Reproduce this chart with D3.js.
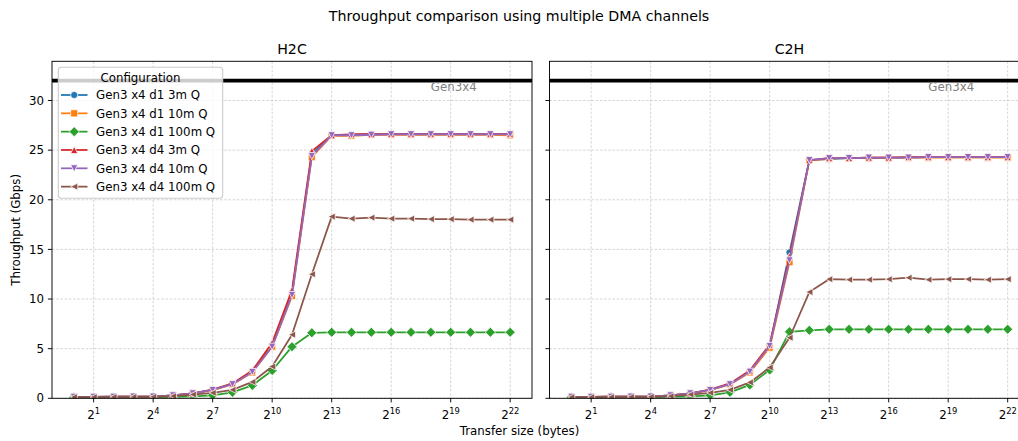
<!DOCTYPE html>
<html>
<head>
<meta charset="utf-8">
<script src="https://cdn.jsdelivr.net/npm/d3@7"></script>
<style>
  body { margin: 0; background: #fff; }
  text { font-family: "DejaVu Sans", sans-serif; fill: #000; }
</style>
</head>
<body>
<div id="chart"></div>
<script>
// transfer sizes in bytes (2^0 .. 2^22)
var sizes = [1, 2, 4, 8, 16, 32, 64, 128, 256, 512, 1024, 2048, 4096, 8192, 16384,
             32768, 65536, 131072, 262144, 524288, 1048576, 2097152, 4194304];

var seriesNames = ["Gen3 x4 d1 3m Q", "Gen3 x4 d1 10m Q", "Gen3 x4 d1 100m Q",
                   "Gen3 x4 d4 3m Q", "Gen3 x4 d4 10m Q", "Gen3 x4 d4 100m Q"];
var seriesColors = ["#1f77b4", "#ff7f0e", "#2ca02c", "#d62728", "#9467bd", "#8c564b"];
var seriesMarkers = ["o", "s", "D", "^", "v", "<"];

// H2C throughput (Gbps)
var h2c_d1_3m   = [0.15, 0.15, 0.16, 0.17, 0.18, 0.30, 0.50, 0.85, 1.45, 2.70, 5.40, 10.6, 24.6, 26.5, 26.55, 26.6, 26.6, 26.6, 26.6, 26.6, 26.6, 26.6, 26.6];
var h2c_d1_10m  = [0.15, 0.15, 0.16, 0.17, 0.18, 0.30, 0.50, 0.82, 1.40, 2.60, 5.20, 10.3, 24.3, 26.45, 26.45, 26.55, 26.55, 26.55, 26.55, 26.55, 26.55, 26.55, 26.5];
var h2c_d1_100m = [0.10, 0.10, 0.10, 0.11, 0.12, 0.15, 0.20, 0.30, 0.60, 1.30, 2.80, 5.20, 6.60, 6.65, 6.65, 6.65, 6.65, 6.65, 6.65, 6.65, 6.65, 6.65, 6.65];
var h2c_d4_3m   = [0.15, 0.15, 0.16, 0.17, 0.18, 0.30, 0.50, 0.87, 1.50, 2.80, 5.60, 10.9, 24.9, 26.5, 26.6, 26.6, 26.65, 26.65, 26.65, 26.65, 26.65, 26.65, 26.65];
var h2c_d4_10m  = [0.15, 0.15, 0.16, 0.17, 0.18, 0.30, 0.50, 0.84, 1.42, 2.65, 5.20, 10.4, 24.4, 26.5, 26.5, 26.55, 26.6, 26.6, 26.6, 26.6, 26.6, 26.6, 26.6];
var h2c_d4_100m = [0.12, 0.12, 0.13, 0.14, 0.15, 0.22, 0.38, 0.55, 0.85, 1.65, 3.20, 6.40, 12.5, 18.3, 18.1, 18.2, 18.1, 18.1, 18.05, 18.05, 18.0, 18.0, 18.0];

// C2H throughput (Gbps)
var c2h_d1_3m   = [0.15, 0.15, 0.16, 0.17, 0.18, 0.30, 0.50, 0.85, 1.45, 2.70, 5.30, 14.7, 24.0, 24.1, 24.2, 24.2, 24.25, 24.25, 24.3, 24.3, 24.3, 24.3, 24.3];
var c2h_d1_10m  = [0.15, 0.15, 0.16, 0.17, 0.18, 0.30, 0.50, 0.82, 1.40, 2.60, 5.10, 13.7, 23.95, 24.15, 24.2, 24.25, 24.25, 24.25, 24.25, 24.25, 24.25, 24.25, 24.25];
var c2h_d1_100m = [0.10, 0.10, 0.10, 0.11, 0.12, 0.15, 0.20, 0.30, 0.60, 1.35, 2.85, 6.70, 6.85, 6.95, 6.95, 6.95, 6.95, 6.95, 6.95, 6.95, 6.95, 6.95, 6.95];
var c2h_d4_3m   = [0.15, 0.15, 0.16, 0.17, 0.18, 0.30, 0.50, 0.87, 1.50, 2.80, 5.40, 14.3, 24.0, 24.2, 24.2, 24.25, 24.25, 24.3, 24.3, 24.3, 24.3, 24.3, 24.3];
var c2h_d4_10m  = [0.15, 0.15, 0.16, 0.17, 0.18, 0.30, 0.50, 0.84, 1.42, 2.68, 5.27, 13.9, 24.0, 24.2, 24.2, 24.25, 24.25, 24.25, 24.3, 24.3, 24.3, 24.3, 24.3];
var c2h_d4_100m = [0.12, 0.12, 0.13, 0.14, 0.15, 0.22, 0.38, 0.55, 0.85, 1.60, 3.10, 6.10, 10.7, 12.0, 11.95, 11.95, 12.0, 12.15, 11.95, 12.0, 12.0, 11.95, 12.0];

var h2cSeries = [h2c_d1_3m, h2c_d1_10m, h2c_d1_100m, h2c_d4_3m, h2c_d4_10m, h2c_d4_100m];
var c2hSeries = [c2h_d1_3m, c2h_d1_10m, c2h_d1_100m, c2h_d4_3m, c2h_d4_10m, c2h_d4_100m];

var xTickExps = [1, 4, 7, 10, 13, 16, 19, 22];
var yTicks = [0, 5, 10, 15, 20, 25, 30];
var genLimit = 32;

var width = 1018;
var height = 441;
var plotTop = 61.3, plotBottom = 398.3;
var panels = [
    { name: "H2C", left: 52, right: 532, data: h2cSeries, id: "h2c", yLabels: true, legend: true },
    { name: "C2H", left: 549.5, right: 1029.5, data: c2hSeries, id: "c2h", yLabels: false, legend: false }
];

var svg = d3.select("#chart")
    .append("svg")
    .attr("width", width)
    .attr("height", height);

svg.append("rect").attr("width", width).attr("height", height).attr("fill", "#fff");

var y = d3.scaleLinear().domain([0, 33.95]).range([plotBottom, plotTop]);

// matplotlib-like marker shapes, s = marker size in px
function markerPath(type, s) {
    var h = s / 2;
    if (type === "o") return d3.symbol().type(d3.symbolCircle).size(Math.PI * h * h)();
    if (type === "s") return "M" + -h + "," + -h + "H" + h + "V" + h + "H" + -h + "Z";
    if (type === "D") { var d = h * Math.SQRT2; return "M0," + -d + "L" + d + ",0L0," + d + "L" + -d + ",0Z"; }
    if (type === "^") return "M0," + -h + "L" + h + "," + h + "L" + -h + "," + h + "Z";
    if (type === "v") return "M0," + h + "L" + h + "," + -h + "L" + -h + "," + -h + "Z";
    if (type === "<") return "M" + -h + ",0L" + h + "," + -h + "L" + h + "," + h + "Z";
}

var lineW = 1.77, markerS = 7.1;

panels.forEach(function (p) {
    var x = d3.scaleLog().base(2)
        .domain([Math.pow(2, -1.1), Math.pow(2, 23.1)])
        .range([p.left, p.right]);

    svg.append("clipPath").attr("id", "clip-" + p.id)
        .append("rect")
        .attr("x", p.left).attr("y", plotTop)
        .attr("width", p.right - p.left).attr("height", plotBottom - plotTop);

    var g = svg.append("g");

    // grid
    g.selectAll(".xgrid")
        .data(xTickExps)
        .enter()
        .append("line")
        .attr("x1", function (d) { return x(Math.pow(2, d)); })
        .attr("x2", function (d) { return x(Math.pow(2, d)); })
        .attr("y1", plotTop).attr("y2", plotBottom)
        .attr("stroke", "#c4c4c4").attr("stroke-width", 0.7)
        .attr("stroke-dasharray", "2.6,1.6");
    g.selectAll(".ygrid")
        .data(yTicks)
        .enter()
        .append("line")
        .attr("x1", p.left).attr("x2", p.right)
        .attr("y1", function (d) { return y(d); })
        .attr("y2", function (d) { return y(d); })
        .attr("stroke", "#c4c4c4").attr("stroke-width", 0.7)
        .attr("stroke-dasharray", "2.6,1.6");

    var plot = g.append("g").attr("clip-path", "url(#clip-" + p.id + ")");

    // Gen3x4 limit line
    plot.append("line")
        .attr("x1", p.left).attr("x2", p.right)
        .attr("y1", y(genLimit)).attr("y2", y(genLimit))
        .attr("stroke", "#000").attr("stroke-width", 3.6);
    plot.append("text")
        .attr("x", x(Math.pow(2, 18)))
        .attr("y", y(genLimit) + 10.6)
        .style("font-size", "11.8px")
        .style("fill", "#808080")
        .text("Gen3x4");

    var line = d3.line()
        .x(function (d, i) { return x(sizes[i]); })
        .y(function (d) { return y(d); });

    p.data.forEach(function (vals, k) {
        var sg = plot.append("g");
        sg.append("path")
            .datum(vals)
            .attr("d", line)
            .attr("fill", "none")
            .attr("stroke", seriesColors[k])
            .attr("stroke-width", lineW)
            .attr("stroke-linejoin", "round");
        sg.selectAll(".m")
            .data(vals)
            .enter()
            .append("path")
            .attr("d", markerPath(seriesMarkers[k], markerS))
            .attr("transform", function (d, i) { return "translate(" + x(sizes[i]) + "," + y(d) + ")"; })
            .attr("fill", seriesColors[k])
            .attr("stroke", "#fff")
            .attr("stroke-width", 0.75);
    });

    // spines
    g.append("rect")
        .attr("x", p.left).attr("y", plotTop)
        .attr("width", p.right - p.left).attr("height", plotBottom - plotTop)
        .attr("fill", "none").attr("stroke", "#000").attr("stroke-width", 0.94);

    // x ticks
    var xt = g.selectAll(".xt")
        .data(xTickExps)
        .enter()
        .append("g")
        .attr("transform", function (d) { return "translate(" + x(Math.pow(2, d)) + "," + plotBottom + ")"; });
    xt.append("line").attr("y1", 0).attr("y2", 4.1).attr("stroke", "#000").attr("stroke-width", 0.94);
    var xl = xt.append("text")
        .attr("y", 20.5)
        .attr("text-anchor", "middle")
        .style("font-size", "11.8px");
    xl.append("tspan").text("2");
    xl.append("tspan")
        .attr("dy", -4.8)
        .style("font-size", "8.3px")
        .text(function (d) { return d; });

    // y ticks
    var yt = g.selectAll(".yt")
        .data(yTicks)
        .enter()
        .append("g")
        .attr("transform", function (d) { return "translate(" + p.left + "," + y(d) + ")"; });
    yt.append("line").attr("x1", 0).attr("x2", -4.1).attr("stroke", "#000").attr("stroke-width", 0.94);
    if (p.yLabels) {
        yt.append("text")
            .attr("x", -8)
            .attr("dy", "0.35em")
            .attr("text-anchor", "end")
            .style("font-size", "11.8px")
            .text(function (d) { return d; });
    }

    // panel title
    svg.append("text")
        .attr("x", (p.left + p.right) / 2)
        .attr("y", 54)
        .attr("text-anchor", "middle")
        .style("font-size", "14.2px")
        .text(p.name);

    // legend
    if (p.legend) {
        var lg = svg.append("g");
        lg.append("rect")
            .attr("x", 58.3).attr("y", 67.3)
            .attr("width", 164.4).attr("height", 131)
            .attr("rx", 3)
            .attr("fill", "#fff").attr("fill-opacity", 0.8)
            .attr("stroke", "#cccccc").attr("stroke-width", 1.1);
        lg.append("text")
            .attr("x", 140.5).attr("y", 81.6)
            .attr("text-anchor", "middle")
            .style("font-size", "11.8px")
            .text("Configuration");
        var row = lg.selectAll(".row")
            .data(seriesNames)
            .enter()
            .append("g")
            .attr("transform", function (d, i) { return "translate(0," + (95 + i * 18.33) + ")"; });
        row.append("line")
            .attr("x1", 61).attr("x2", 87.5)
            .attr("stroke", function (d, i) { return seriesColors[i]; })
            .attr("stroke-width", lineW);
        row.append("path")
            .attr("d", function (d, i) { return markerPath(seriesMarkers[i], markerS); })
            .attr("transform", "translate(74.2,0)")
            .attr("fill", function (d, i) { return seriesColors[i]; })
            .attr("stroke", "#fff").attr("stroke-width", 0.75);
        row.append("text")
            .attr("x", 96).attr("dy", "0.36em")
            .style("font-size", "11.8px")
            .text(function (d) { return d; });
    }
});

// figure title and shared labels
svg.append("text")
    .attr("x", 519).attr("y", 21)
    .attr("text-anchor", "middle")
    .style("font-size", "14.2px")
    .text("Throughput comparison using multiple DMA channels");

svg.append("text")
    .attr("x", 519.5).attr("y", 435)
    .attr("text-anchor", "middle")
    .style("font-size", "11.8px")
    .text("Transfer size (bytes)");

svg.append("text")
    .attr("transform", "translate(19.5," + (plotTop + plotBottom) / 2 + ") rotate(-90)")
    .attr("text-anchor", "middle")
    .style("font-size", "11.8px")
    .text("Throughput (Gbps)");
</script>
</body>
</html>
